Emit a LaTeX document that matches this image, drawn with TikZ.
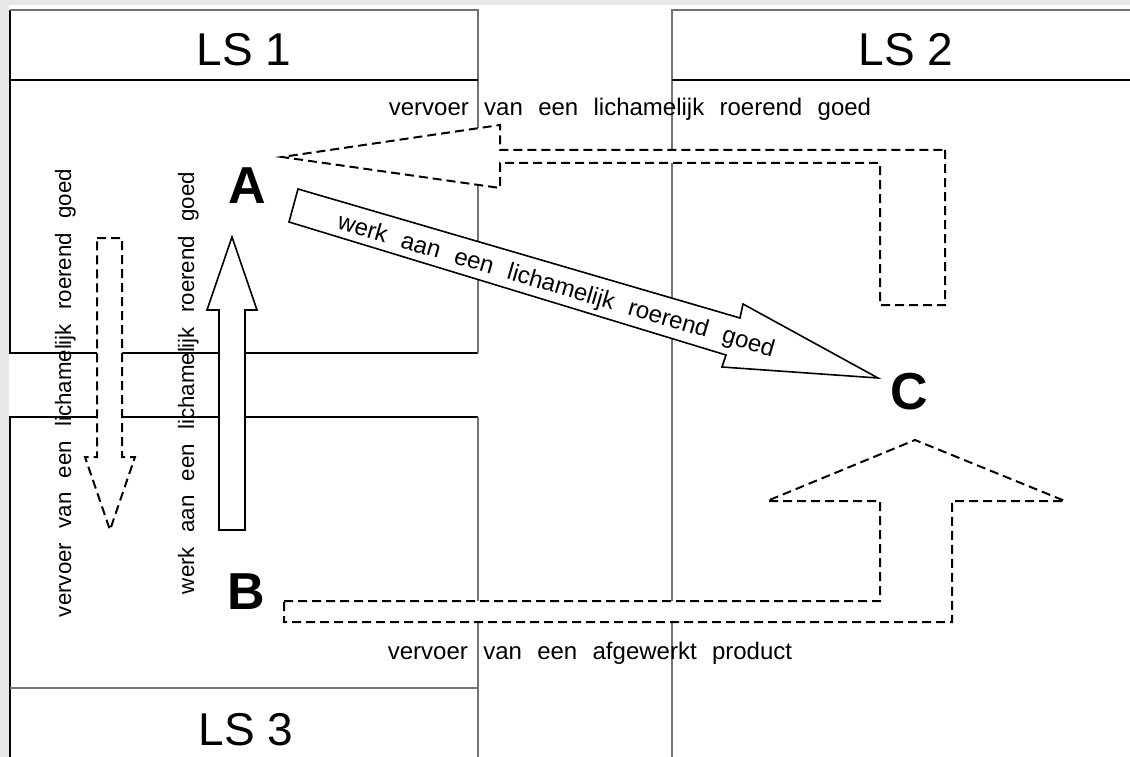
\documentclass[tikz,border=0pt]{standalone}
\usepackage{fontspec}
\setmainfont{Liberation Sans}
\newfontfamily\labelfont[WordSpace=2.3]{Liberation Sans}

\begin{document}
\begin{tikzpicture}[
    x=1pt, y=-1pt,
    border/.style={
        draw=black,
        line width=1.4pt
    },
    softborder/.style={
        draw=black!55,
        line width=2.2pt
    },
    zonetitle/.style={
        font=\fontsize{46}{50}\selectfont,
        inner sep=0pt
    },
    place/.style={
        font=\bfseries\fontsize{52}{56}\selectfont,
        inner sep=0pt
    },
    blockarrow/.style={
        draw=black,
        fill=white,
        line width=1.6pt,
        line join=miter
    },
    dasharrow/.style={
        blockarrow,
        line width=2pt,
        dash pattern=on 9pt off 5pt
    },
    label_text/.style={
        font=\labelfont\fontsize{24}{27}\selectfont,
        inner sep=0pt
    },
    side_text/.style={
        label_text,
        font=\labelfont\fontsize{22.3}{25}\selectfont,
        rotate=90
    }
]
    \useasboundingbox (0,0) rectangle (1130,757);
    \fill[black!9] (0,0) rectangle (1130,757);
    \fill[white] (9,5) rectangle (1130,757);

    % ZONES
    \draw[border] (478,353) -- (10,353) -- (10,10);
    \draw[softborder] (10,10) -- (478,10) -- (478,353);
    \draw[border] (10,80) -- (478,80);
    \draw[border] (10,757) -- (10,417) -- (478,417);
    \draw[softborder] (478,417) -- (478,757);
    \draw[softborder] (10,688) -- (478,688);
    \draw[softborder] (1130,10) -- (672,10) -- (672,757);
    \draw[border] (672,80) -- (1130,80);

    \node[zonetitle] (ls1) at (244,50) {LS 1};
    \node[zonetitle] (ls2) at (906,50) {LS 2};
    \node[zonetitle] (ls3) at (246,730) {LS 3};

    % LABELS
    \node[label_text, anchor=base] (tolabel) at (630,116) {vervoer van een lichamelijk roerend goed};
    \node[label_text, anchor=base] (productlabel) at (590,659) {vervoer van een afgewerkt product};
    \node[side_text, anchor=base] (backlabel) at (71,393) {vervoer van een lichamelijk roerend goed};
    \node[side_text, anchor=base] (worklabel) at (194,383) {werk aan een lichamelijk roerend goed};

    % ARROWS
    \draw[blockarrow] (219,530) -- (219,310) -- (207,310) -- (232,237) -- (257,310) -- (245,310) -- (245,530) -- cycle;
    \draw[dasharrow] (97,238) -- (122,238) -- (122,457) -- (135,457) -- (110,530) -- (85,457) -- (97,457) -- cycle;
    \draw[dasharrow] (945,150) -- (945,305) -- (880,305) -- (880,163) -- (500,163) -- (500,188) -- (282,157) -- (500,125) -- (500,150) -- cycle;
    \draw[dasharrow] (284,601) -- (880,601) -- (880,501) -- (767,501) -- (915,440) -- (1065,501) -- (952,501) -- (952,622) -- (284,622) -- cycle;
    \draw[blockarrow] (298,189) -- (740,318) -- (743,304) -- (878,378) -- (722,367) -- (726,355) -- (289,222) -- cycle;
    \node[label_text, rotate=-16.4] (shiftlabel) at (556,287) {werk aan een lichamelijk roerend goed};

    % PLACES
    \node[place] (A) at (247,186) {A};
    \node[place] (B) at (246,592) {B};
    \node[place] (C) at (909,392) {C};

\end{tikzpicture}
\end{document}
